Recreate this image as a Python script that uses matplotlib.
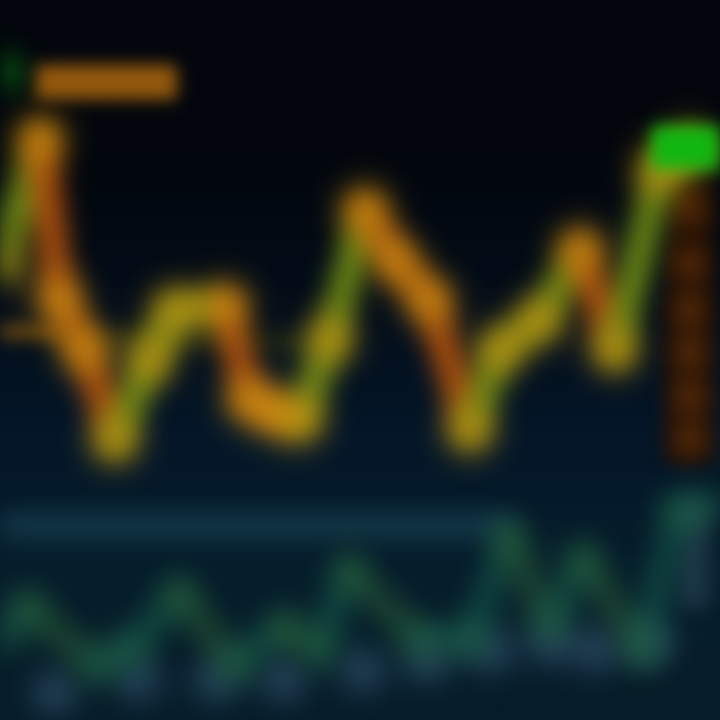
import numpy as np
import matplotlib
matplotlib.use("Agg")
import matplotlib.pyplot as plt
from matplotlib.collections import LineCollection
from matplotlib.patches import FancyBboxPatch, Rectangle
from matplotlib.colors import LinearSegmentedColormap

# ---- data (time index in days, value in arbitrary price units) ----
price_days = [0, 5.6, 8.3, 11.8, 16, 20.8, 24.3, 31.3, 34.7, 38.9, 41.7, 45.8,
              50.7, 54.9, 59.7, 65.3, 69.4, 75, 80.6, 85.4, 91.7, 95.8]
price_vals = [63.2, 80.6, 58.3, 51.4, 38.9, 50, 56.9, 57.6, 44.4, 42.4, 41.7, 52.8,
              70.8, 63.9, 58.3, 40.3, 51.4, 55.6, 65.3, 51.4, 76.4, 79.2]

osc_days = [0, 3.9, 13.2, 18.1, 24.9, 32.6, 39.4, 44.4, 48.5, 58.3, 65.3, 70.7,
            76.4, 81, 89.2, 94.3, 100]
osc_vals = [11.1, 15.7, 7.6, 9.7, 17.6, 7.6, 12.9, 9.7, 20.8, 11.1, 11.1, 25.4,
            13.2, 22.4, 9.7, 29.2, 29.9]

vol_days = [7.6, 19.2, 30, 39.4, 50.3, 59.3, 68.2, 76.4, 82.8, 90.4]
vol_vals = [3.8, 5.6, 5.6, 5.6, 6.9, 8.3, 9.7, 10.8, 9.7, 10.8]

ladder_levels = [70.8, 63.5, 56.9, 51.0, 44.9, 38.9]
signal_level = 54.0
band_level = 27.0

BG_TOP = "#02060c"
BG_BOT = "#061c28"


def blur(sigma):
    """agg_filter: gaussian blur in premultiplied space."""
    rad = int(3 * sigma)
    xs = np.arange(-rad, rad + 1)
    k = np.exp(-0.5 * (xs / sigma) ** 2)
    k /= k.sum()

    def conv(a, axis):
        out = np.zeros_like(a)
        for i, w in zip(xs, k):
            out += w * np.roll(a, i, axis=axis)
        return out

    def f(im, dpi):
        pad = rad
        p = np.pad(im, [(pad, pad), (pad, pad), (0, 0)])
        a = p[..., 3:4]
        pm = np.concatenate([p[..., :3] * a, a], axis=2)
        pm = conv(conv(pm, 0), 1)
        al = pm[..., 3:4]
        rgb = np.where(al > 1e-6, pm[..., :3] / np.maximum(al, 1e-6), 0)
        return np.concatenate([np.clip(rgb, 0, 1), np.clip(al, 0, 1)], axis=2), -pad, -pad

    return f


fig = plt.figure(figsize=(7.2, 7.2), dpi=100)
ax = fig.add_axes([0, 0, 1, 1])
ax.set_xlim(0, 100)
ax.set_ylim(0, 100)
ax.axis("off")

grad = np.linspace(0, 1, 256).reshape(-1, 1)
bg_cmap = LinearSegmentedColormap.from_list(
    "bg", [BG_BOT, "#061e2c", "#041628", "#030c18", BG_TOP, BG_TOP])
ax.imshow(grad, extent=[0, 100, 0, 100], origin="lower", cmap=bg_cmap,
          aspect="auto", zorder=0)


def seg_colors(y, up, dn):
    return [up if y[i + 1] >= y[i] else dn for i in range(len(y) - 1)]


def segments(x, y):
    pts = np.column_stack([x, y])
    return np.stack([pts[:-1], pts[1:]], axis=1)


# horizontal bands
b1, = ax.plot([0, 70], [band_level, band_level], color="#184252", lw=20,
              alpha=0.75, solid_capstyle="round", zorder=1)
b1.set_agg_filter(blur(12))
b2, = ax.plot([0, 8], [signal_level, signal_level], color="#7a5010", lw=12,
              alpha=0.8, solid_capstyle="round", zorder=1)
b2.set_agg_filter(blur(8))
b3, = ax.plot([8, 42], [signal_level - 1, signal_level - 1.5], color="#3a4010",
              lw=14, alpha=0.5, solid_capstyle="round", zorder=1)
b3.set_agg_filter(blur(10))

# right-side scale strip (bottom panel)
strip = ax.add_patch(Rectangle((94.5, 15.5), 4.0, 14.5, fc="#2a4454", ec="none",
                               alpha=0.7, zorder=1))
strip.set_agg_filter(blur(10))

# volume dots
vd = ax.scatter(vol_days, vol_vals, s=1000, color="#2e4e68", alpha=0.9,
                edgecolors="none", zorder=2)
vd.set_agg_filter(blur(11))

# oscillator line
lc = LineCollection(segments(osc_days, osc_vals),
                    colors=seg_colors(osc_vals, "#17604f", "#2c5e36"),
                    linewidths=20, alpha=0.6, capstyle="round",
                    joinstyle="round", zorder=3)
ax.add_collection(lc)
lc.set_agg_filter(blur(13))
od = ax.scatter(osc_days, osc_vals, s=600, color="#2a6e44", alpha=0.5,
                edgecolors="none", zorder=3)
od.set_agg_filter(blur(13))

# right price ladder
col = ax.add_patch(Rectangle((92.5, 35.5), 6.5, 39, fc="#1c0c03", ec="none",
                             alpha=0.9, zorder=4))
col.set_agg_filter(blur(8))
lad = ax.scatter([95.8] * len(ladder_levels), ladder_levels, s=520, marker="s",
                 color="#6a340a", alpha=0.85, edgecolors="none", zorder=4)
lad.set_agg_filter(blur(9))

# main price line
ml = LineCollection(segments(price_days, price_vals),
                    colors=seg_colors(price_vals, "#6e8c16", "#b4520e"),
                    linewidths=22, alpha=0.95, capstyle="round",
                    joinstyle="round", zorder=5)
ax.add_collection(ml)
ml.set_agg_filter(blur(12))
pd_ = ax.scatter(price_days, price_vals, s=1000, color="#d49a12", alpha=0.9,
                 edgecolors="none", zorder=6)
pd_.set_agg_filter(blur(12))

# top-left label block
lbl = ax.add_patch(FancyBboxPatch((5.5, 86.8), 18.5, 3.6,
                                  boxstyle="round,pad=0.6", fc="#a0600e",
                                  ec="none", alpha=0.95, zorder=7))
lbl.set_agg_filter(blur(8))
gm = ax.scatter([0.3], [90.0], s=900, color="#0c6a14", alpha=0.9,
                edgecolors="none", zorder=7)
gm.set_agg_filter(blur(9))

# current price tag (green)
tag = ax.add_patch(FancyBboxPatch((91.0, 77.0), 10.0, 5.0,
                                  boxstyle="round,pad=0.5", fc="#10b812",
                                  ec="none", alpha=1.0, zorder=8))
tag.set_agg_filter(blur(8))

fig.savefig("out.png", dpi=100, facecolor=BG_TOP)
